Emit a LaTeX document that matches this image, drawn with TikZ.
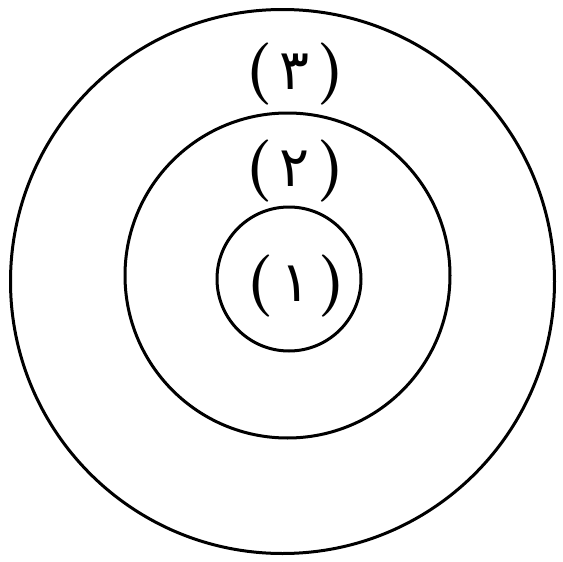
\documentclass[tikz,border=0pt]{standalone}
\usepackage{fontspec}
\newfontfamily\arabicfont[Script=Arabic]{DejaVu Sans}
\newcommand{\arnum}[1]{{\bfseries\fontsize{62}{68}\selectfont(}\hspace{7pt}{\arabicfont\fontsize{56}{62}\selectfont #1}\hspace{7pt}{\bfseries\fontsize{62}{68}\selectfont)}}
\tikzset{
  ring/.style={draw=black, circle, line width=3pt, inner sep=0pt},
  numlabel/.style={inner sep=0pt}
}
\begin{document}
\begin{tikzpicture}[x=1pt,y=-1pt]
  \useasboundingbox[fill=white] (0,0) rectangle (563,562);
  % rings
  \node[ring, minimum size=544pt] (outer) at (282.5,281.5) {};
  \node[ring, minimum size=325pt] (middle) at (287.5,275.5) {};
  \node[ring, minimum size=144pt] (inner) at (289,279) {};
  % labels
  \node[numlabel] (lab3) at (295,74) {\arnum{٣}};
  \node[numlabel] (lab2) at (295,171) {\arnum{٢}};
  \node[numlabel] (lab1) at (296,286) {\arnum{١}};
\end{tikzpicture}
\end{document}
